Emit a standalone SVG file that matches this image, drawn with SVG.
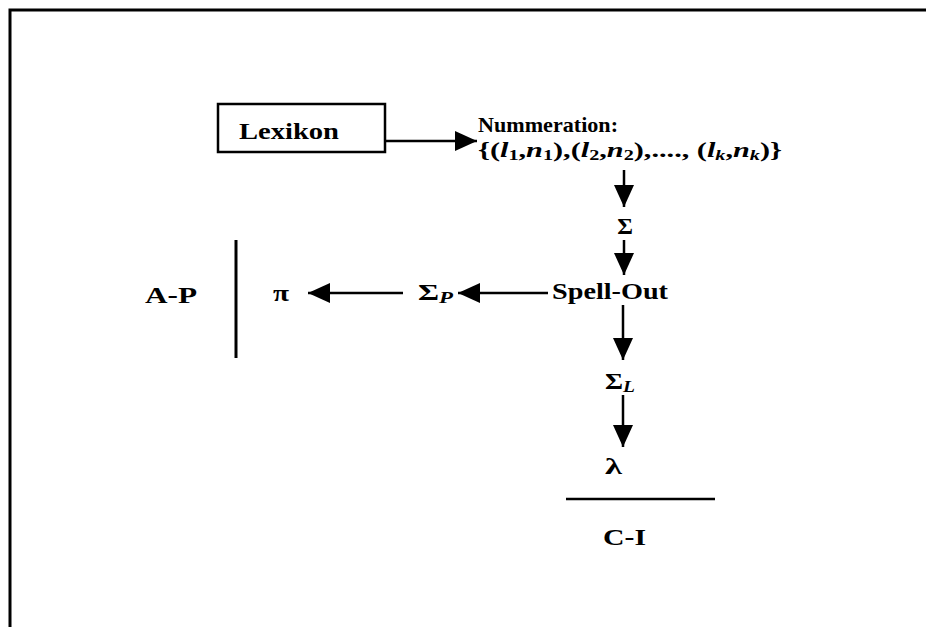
<svg xmlns="http://www.w3.org/2000/svg" width="926" height="627" viewBox="0 0 926 627">
<defs>
<style>
text{font-family:"Liberation Serif","Times New Roman",serif;font-weight:bold;font-size:24px;fill:#000}
.num{font-size:21px}
.it{font-style:italic}
.ln{stroke:#000;stroke-width:2.5;fill:none}
</style>
<marker id="ah" viewBox="0 0 22 20" refX="22" refY="10" markerWidth="22" markerHeight="20" markerUnits="userSpaceOnUse" orient="auto">
<path d="M0,0 L22,10 L0,20 Z" fill="#000"/>
</marker>
</defs>
<rect width="926" height="627" fill="#fff"/>
<g id="frame">
<path d="M10,640 L10,10 L940,10" stroke="#000" stroke-width="3" fill="none"/>
</g>
<g id="lexikon">
<rect x="218" y="104" width="167" height="48" fill="#fff" stroke="#000" stroke-width="2.5"/>
<text x="239" y="139" textLength="100" lengthAdjust="spacingAndGlyphs">Lexikon</text>
</g>
<g id="nummeration">
<text class="num" x="478" y="132" textLength="140" lengthAdjust="spacingAndGlyphs">Nummeration:</text>
<text class="num" x="478" y="157" textLength="304" lengthAdjust="spacingAndGlyphs">{(<tspan class="it">l</tspan><tspan font-size="14" dy="3">1</tspan><tspan dy="-3">,</tspan><tspan class="it">n</tspan><tspan font-size="14" dy="3">1</tspan><tspan dy="-3">),(</tspan><tspan class="it">l</tspan><tspan font-size="14" dy="3">2</tspan><tspan dy="-3">,</tspan><tspan class="it">n</tspan><tspan font-size="14" dy="3">2</tspan><tspan dy="-3">),...., (</tspan><tspan class="it">l</tspan><tspan font-size="14" dy="3" class="it">k</tspan><tspan dy="-3">,</tspan><tspan class="it">n</tspan><tspan font-size="14" dy="3" class="it">k</tspan><tspan dy="-3">)}</tspan></text>
</g>
<g id="sigma">
<text x="625" y="234" text-anchor="middle">Σ</text>
</g>
<g id="spellout">
<text x="552" y="299" textLength="116" lengthAdjust="spacingAndGlyphs">Spell-Out</text>
</g>
<g id="sigma-p">
<text x="418" y="300" textLength="35" lengthAdjust="spacingAndGlyphs">Σ<tspan class="it" font-size="17" dy="3">P</tspan></text>
</g>
<g id="pi">
<text x="273" y="301" textLength="16" lengthAdjust="spacingAndGlyphs">π</text>
</g>
<g id="ap">
<text x="145" y="303" textLength="52" lengthAdjust="spacingAndGlyphs">A-P</text>
<line x1="236" y1="240" x2="236" y2="358" stroke="#000" stroke-width="3"/>
</g>
<g id="sigma-l">
<text x="605" y="389" textLength="30" lengthAdjust="spacingAndGlyphs">Σ<tspan class="it" font-size="17" dy="3">L</tspan></text>
</g>
<g id="lambda">
<text x="605" y="474" textLength="17" lengthAdjust="spacingAndGlyphs">λ</text>
</g>
<g id="ci">
<line x1="566" y1="499" x2="715" y2="499" stroke="#000" stroke-width="2.5"/>
<text x="603" y="545" textLength="43" lengthAdjust="spacingAndGlyphs">C-I</text>
</g>
<g id="connectors">
<line class="ln" x1="385" y1="141" x2="477" y2="141" marker-end="url(#ah)"/>
<line class="ln" x1="624" y1="170" x2="624" y2="207" marker-end="url(#ah)"/>
<line class="ln" x1="624" y1="240" x2="624" y2="275" marker-end="url(#ah)"/>
<line class="ln" x1="548" y1="293" x2="458" y2="293" marker-end="url(#ah)"/>
<line class="ln" x1="403" y1="293" x2="308" y2="293" marker-end="url(#ah)"/>
<line class="ln" x1="623" y1="305" x2="623" y2="360" marker-end="url(#ah)"/>
<line class="ln" x1="623" y1="395" x2="623" y2="447" marker-end="url(#ah)"/>
</g>
</svg>
